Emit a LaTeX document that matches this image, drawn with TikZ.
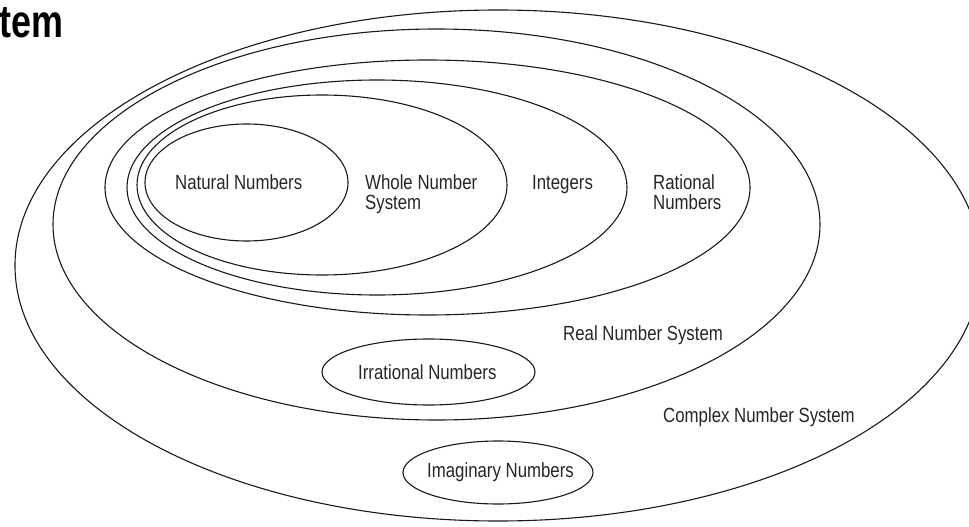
\documentclass[tikz,border=0pt]{standalone}
\usepackage{fontspec}
\setmainfont{Liberation Sans}[FakeStretch=0.82]
\newfontfamily\titlefont{Liberation Sans}[FakeStretch=0.78]
\usetikzlibrary{shapes.geometric}
\tikzset{
  ring/.style={draw=black!90, line width=1.1pt, ellipse, inner sep=0pt, fill=none},
  lbl/.style={anchor=base west, inner sep=0pt, text=black!85, font=\fontsize{20.5}{20.5}\selectfont, align=left},
  ttl/.style={anchor=base west, inner sep=0pt, text=black, font=\titlefont\bfseries\fontsize{46}{46}\selectfont}
}
\begin{document}
\begin{tikzpicture}[x=1pt,y=-1pt]
\useasboundingbox (0,0) rectangle (969,527);
\clip (0,0) rectangle (969,527);
% ellipses
\node[ring, minimum width=966pt, minimum height=511pt] (complex) at (498,265.5) {};
\node[ring, minimum width=767pt, minimum height=391pt] (real) at (436.5,224.5) {};
\node[ring, minimum width=645pt, minimum height=255pt] (rational) at (427.5,187.5) {};
\node[ring, minimum width=500pt, minimum height=215pt] (integers) at (377,187.5) {};
\node[ring, minimum width=370pt, minimum height=180pt] (whole) at (322,185) {};
\node[ring, minimum width=203pt, minimum height=117pt] (natural) at (246.5,182.5) {};
\node[ring, minimum width=213pt, minimum height=66pt] (irrational) at (428.5,372) {};
\node[ring, minimum width=190pt, minimum height=63pt] (imaginary) at (498,472.5) {};
% labels
\node[ttl] (title) at (-1,38) {tem};
\node[lbl] (tnat) at (175,189) {Natural Numbers};
\node[lbl, anchor=north west] (twhole) at (365,174) {Whole Number\\[-0.5pt]System};
\node[lbl] (tint) at (532,189) {Integers};
\node[lbl, anchor=north west] (trat) at (653,174) {Rational\\[-0.5pt]Numbers};
\node[lbl] (treal) at (563,340) {Real Number System};
\node[lbl] (tirr) at (358,379) {Irrational Numbers};
\node[lbl] (timag) at (427,477) {Imaginary Numbers};
\node[lbl] (tcomp) at (663,422) {Complex Number System};
\end{tikzpicture}
\end{document}
